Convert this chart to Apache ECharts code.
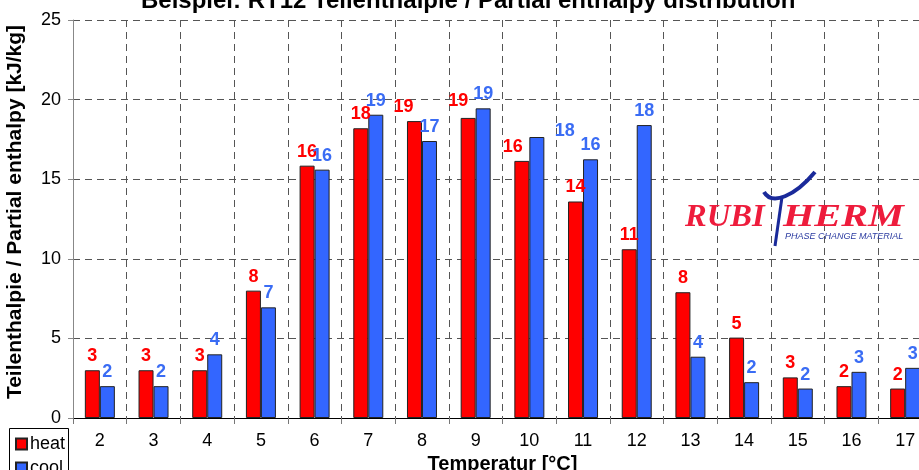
<!DOCTYPE html>
<html>
<head>
<meta charset="utf-8">
<script src="https://cdn.jsdelivr.net/npm/echarts@6/dist/echarts.min.js"></script>
<style>html,body{margin:0;padding:0;background:#fff;overflow:hidden}#c{width:932px;height:470px}</style>
</head>
<body>
<div id="c"></div>
<script>
const categories = ['2','3','4','5','6','7','8','9','10','11','12','13','14','15','16','17'];
const heat = [3.0, 3.0, 3.0, 8.0, 15.85, 18.2, 18.65, 18.85, 16.15, 13.6, 10.6, 7.9, 5.05, 2.55, 2.0, 1.85];
const cool = [2.0, 2.0, 4.0, 6.95, 15.6, 19.05, 17.4, 19.45, 17.65, 16.25, 18.4, 3.85, 2.25, 1.85, 2.9, 3.15];
const yTicks = [0, 5, 10, 15, 20, 25];

const FONT = 'Liberation Sans, Arial, sans-serif';
const heatOffsets = {6: [-11, 0], 7: [-10, -3], 8: [-9, 0]};
const coolOffsets = {8: [28, 8]};

function mk(vals, offs) {
  return vals.map((v, i) => offs[i] ? {value: v, label: {offset: offs[i]}} : v);
}

const legendText = {fontFamily: FONT, fontSize: 18, color: '#000', padding: [0, 0, 0, -2]};

const chart = echarts.init(document.getElementById('c'));
chart.setOption({
  animation: false,
  backgroundColor: '#fff',
  title: {
    text: 'Beispiel: RT12 Teilenthalpie / Partial enthalpy distribution',
    left: 136, top: -16,
    textStyle: {fontFamily: FONT, fontWeight: 'bold', fontSize: 24, color: '#000'}
  },
  legend: [
    {left: 15, top: 435, padding: 0, data: ['heat'], icon: 'rect', itemWidth: 11, itemHeight: 11, textStyle: legendText},
    {left: 15, top: 459, padding: 0, data: ['cool'], icon: 'rect', itemWidth: 11, itemHeight: 11, textStyle: legendText}
  ],
  grid: {left: 73, right: 0, top: 20, bottom: 52, containLabel: false, outerBoundsMode: 'none'},
  xAxis: {
    type: 'category', data: categories,
    name: 'Temperatur [°C]', nameLocation: 'middle', nameGap: 34,
    nameTextStyle: {fontFamily: FONT, fontWeight: 'bold', fontSize: 20, color: '#000'},
    axisLine: {lineStyle: {color: '#000', width: 1}},
    axisTick: {show: true, length: 6, lineStyle: {color: '#777'}},
    axisLabel: {fontFamily: FONT, fontSize: 18, color: '#000', margin: 14},
    splitLine: {show: true, lineStyle: {color: '#555', type: [7, 5], width: 1}}
  },
  yAxis: {
    type: 'value', min: yTicks[0], max: yTicks[yTicks.length - 1], interval: 5,
    name: 'Teilenthalpie / Partial enthalpy [kJ/kg]', nameLocation: 'middle', nameGap: 47,
    nameTextStyle: {fontFamily: FONT, fontWeight: 'bold', fontSize: 21, color: '#000', padding: [0, 0, 0, 14]},
    axisLine: {show: true, lineStyle: {color: '#888', width: 1}},
    axisTick: {show: true, length: 5, lineStyle: {color: '#888'}},
    axisLabel: {fontFamily: FONT, fontSize: 18, color: '#000', margin: 12},
    splitLine: {show: true, lineStyle: {color: '#555', type: [7, 5], width: 1}}
  },
  series: [
    {
      name: 'heat', type: 'bar', data: mk(heat, heatOffsets),
      barWidth: 15, barGap: '0%',
      itemStyle: {color: '#ff0000', borderColor: '#222', borderWidth: 1},
      label: {show: true, position: 'top', distance: 5, formatter: p => Math.round(p.value),
        fontFamily: FONT, fontWeight: 'bold', fontSize: 18, color: '#ff0000'}
    },
    {
      name: 'cool', type: 'bar', data: mk(cool, coolOffsets),
      barWidth: 15,
      itemStyle: {color: '#3366ff', borderColor: '#222', borderWidth: 1},
      label: {show: true, position: 'top', distance: 5, formatter: p => Math.round(p.value),
        fontFamily: FONT, fontWeight: 'bold', fontSize: 18, color: '#3a6cf4'}
    }
  ],
  graphic: [
    {type: 'rect', z: 20, shape: {x: 9.5, y: 428.5, width: 59, height: 50},
     style: {fill: null, stroke: '#000', lineWidth: 1}},
    {type: 'text', x: 685, y: 202, scaleX: 1.05, z: 10,
     style: {text: 'RUBI', fill: '#ee1c3c', font: 'italic bold 31px "Liberation Serif", serif', verticalAlign: 'top', textVerticalAlign: 'top'}},
    {type: 'text', x: 783, y: 202, scaleX: 1.3, z: 10,
     style: {text: 'HERM', fill: '#ee1c3c', font: 'italic bold 31px "Liberation Serif", serif', verticalAlign: 'top', textVerticalAlign: 'top'}},
    {type: 'bezierCurve', z: 11,
     shape: {x1: 764, y1: 192, x2: 815, y2: 172, cpx1: 772, cpy1: 206, cpx2: 795, cpy2: 196},
     style: {stroke: '#1a2a9a', lineWidth: 4, fill: null}},
    {type: 'line', z: 11,
     shape: {x1: 782, y1: 197, x2: 775, y2: 246},
     style: {stroke: '#1a2a9a', lineWidth: 3}},
    {type: 'text', x: 785, y: 232, z: 10,
     style: {text: 'PHASE CHANGE MATERIAL', fill: '#2a3aa0', font: 'italic 9px "Liberation Sans", Arial, sans-serif', verticalAlign: 'top', textVerticalAlign: 'top'}}
  ]
});
</script>
</body>
</html>
